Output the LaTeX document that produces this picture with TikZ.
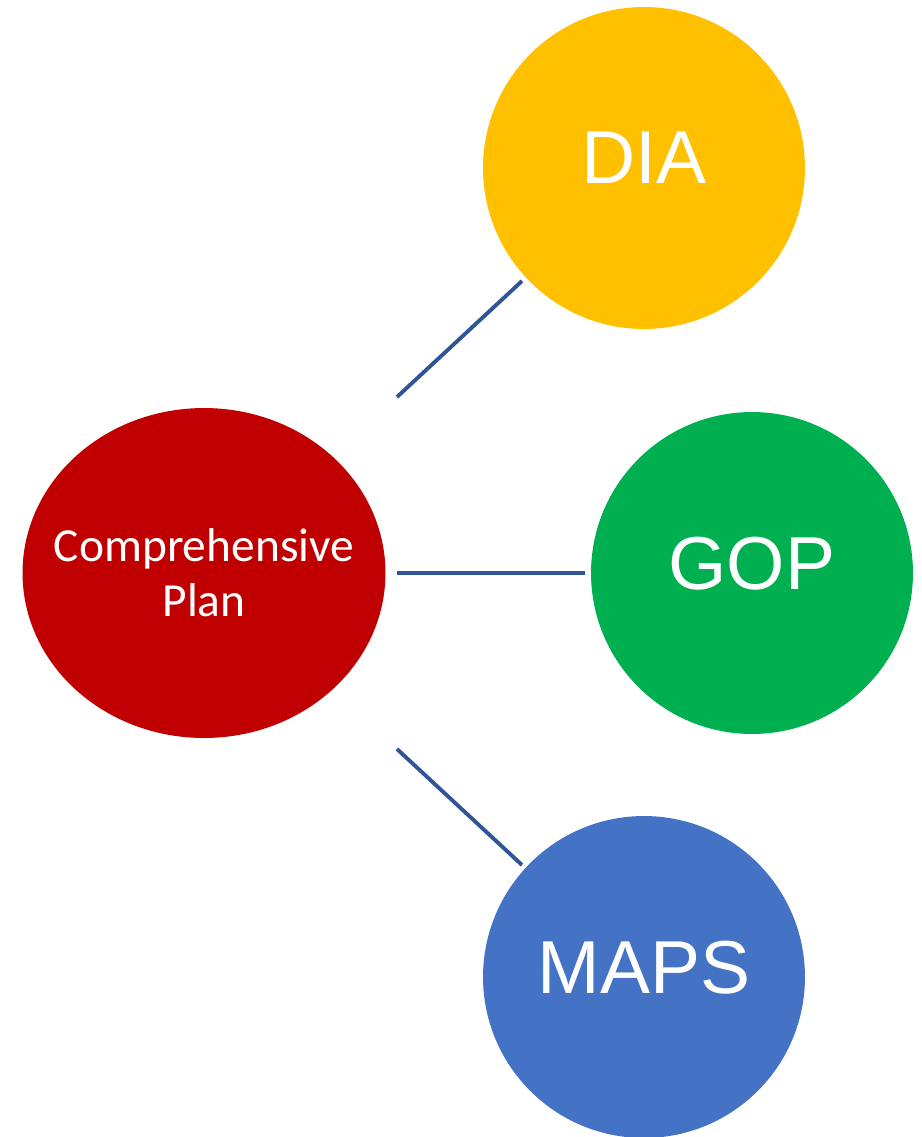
\documentclass[tikz,border=0pt]{standalone}
\usepackage{fontspec}
\setmainfont{Liberation Sans}
\newfontfamily\calib{Carlito}
\usetikzlibrary{shapes.geometric}
\definecolor{cyellow}{HTML}{FFC000}
\definecolor{cgreen}{HTML}{00B050}
\definecolor{cblue}{HTML}{4472C4}
\definecolor{cred}{HTML}{C00000}
\definecolor{cline}{HTML}{2F5597}
\tikzset{
  bubble/.style={circle, minimum size=6.44cm, inner sep=0pt},
  bubbletext/.style={text=white, inner sep=0pt, font=\fontsize{42.7}{48}\selectfont},
  hub/.style={ellipse, minimum width=7.26cm, minimum height=6.6cm, inner sep=0pt, fill=cred},
  hubtext/.style={text=white, align=center, inner sep=0pt,
    font=\calib\fontsize{27}{31.3}\selectfont},
  link/.style={draw=cline, line width=2.2pt}
}
\begin{document}
\begin{tikzpicture}[x=0.02cm, y=-0.02cm]
\useasboundingbox (0,0) rectangle (921,1137);
\node[bubble, fill=cyellow] (dia) at (644,168) {};
\node[bubble, fill=cgreen] (gop) at (752,573) {};
\node[bubble, fill=cblue] (maps) at (644,977) {};
\node[hub] (plan) at (204,573) {};
\node[bubbletext] (diat) at (644,158) {DIA};
\node[bubbletext] (gopt) at (752,563.5) {GOP};
\node[bubbletext] (mapst) at (644,968) {MAPS};
\node[hubtext] (plant) at (204,573) {Comprehensive\\Plan};
\coordinate (a1) at (397,397);
\coordinate (a2) at (397,573);
\coordinate (a3) at (397,749);
\coordinate (b1) at (522,281);
\coordinate (b2) at (585,573);
\coordinate (b3) at (522,865);
\draw[link] (a1) -- (b1);
\draw[link] (a2) -- (b2);
\draw[link] (a3) -- (b3);
\end{tikzpicture}
\end{document}
